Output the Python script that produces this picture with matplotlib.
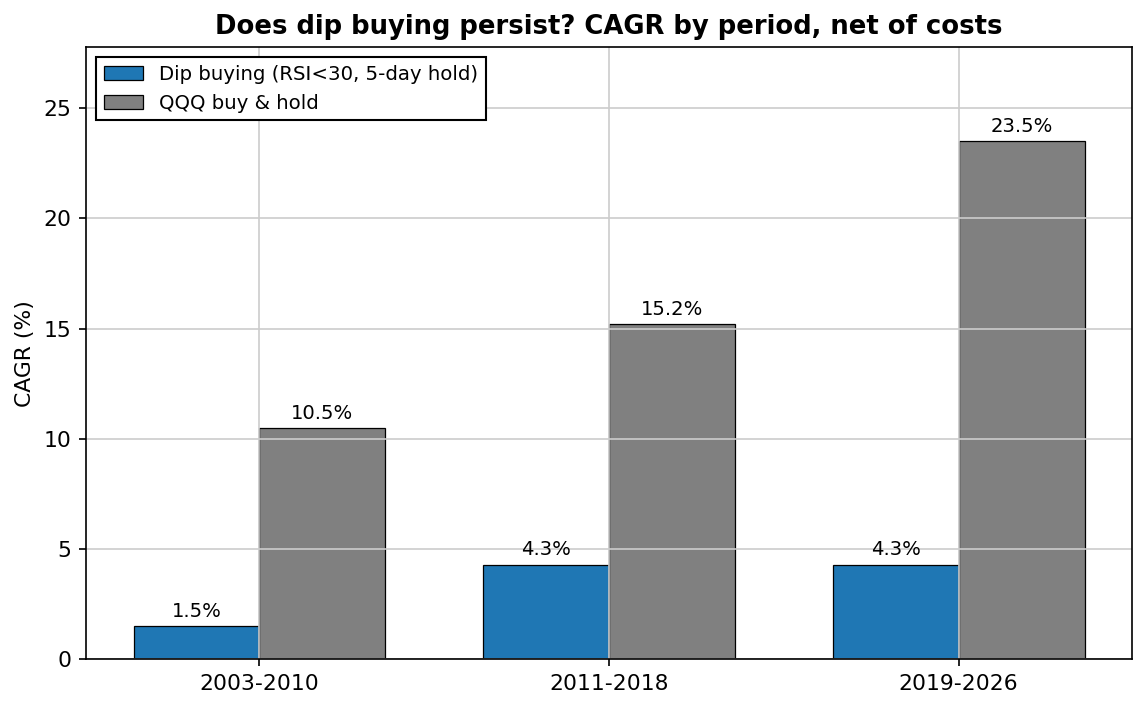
import numpy as np
import matplotlib
matplotlib.use("Agg")
import matplotlib.pyplot as plt

periods = ["2003-2010", "2011-2018", "2019-2026"]
dip_cagr = [1.5, 4.3, 4.3]
qqq_cagr = [10.5, 15.2, 23.5]

x = np.arange(len(periods))
width = 0.36

fig, ax = plt.subplots(figsize=(1147 / 150, 709 / 150), dpi=150)
b1 = ax.bar(x - width / 2, dip_cagr, width, color="#1f77b4", edgecolor="black",
            linewidth=0.6, label="Dip buying (RSI<30, 5-day hold)")
b2 = ax.bar(x + width / 2, qqq_cagr, width, color="#808080", edgecolor="black",
            linewidth=0.6, label="QQQ buy & hold")

for bars in (b1, b2):
    for b in bars:
        h = b.get_height()
        ax.annotate(f"{h:.1f}%", (b.get_x() + b.get_width() / 2, h),
                    xytext=(0, 2.5), textcoords="offset points",
                    ha="center", va="bottom", fontsize=9.4)

ax.set_xticks(x)
ax.set_xticklabels(periods, fontsize=10.5)
ax.tick_params(axis="y", labelsize=10.5)
ax.set_ylabel("CAGR (%)", fontsize=10.5)
ax.set_ylim(0, max(qqq_cagr) * 1.182)
ax.set_title("Does dip buying persist? CAGR by period, net of costs",
             fontsize=12.4, fontweight="bold")
ax.grid(True, color="#cccccc", linewidth=0.8)
leg = ax.legend(loc="upper left", fontsize=9.5, fancybox=False, edgecolor="black", framealpha=1)
leg.get_frame().set_linewidth(1.0)

fig.subplots_adjust(left=0.075, right=0.987, top=0.934, bottom=0.07)
fig.savefig("out.png", dpi=150)
